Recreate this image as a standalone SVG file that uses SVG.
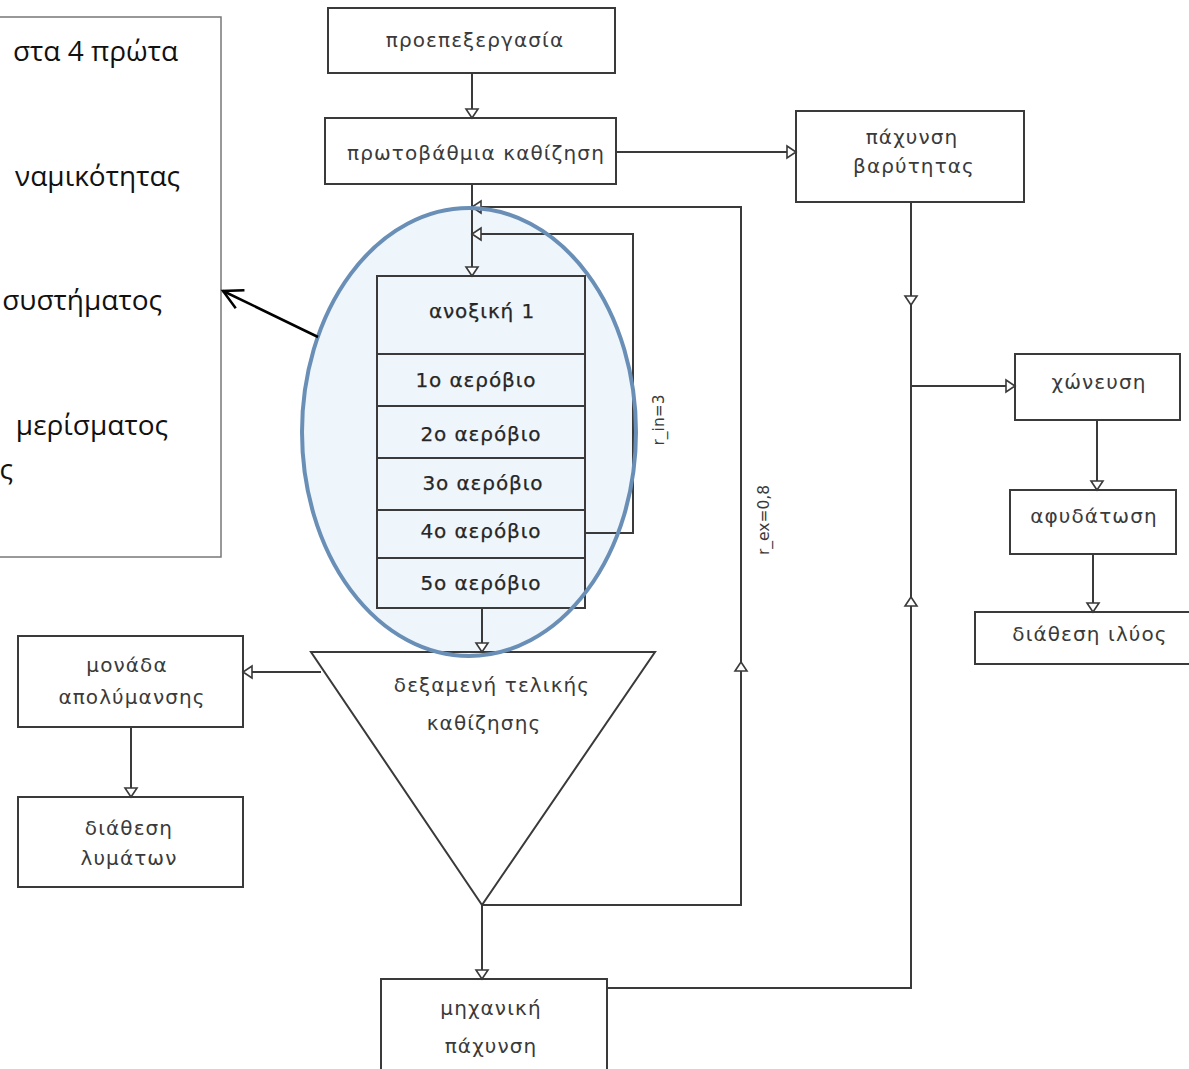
<svg xmlns="http://www.w3.org/2000/svg" width="1189" height="1069" viewBox="0 0 1189 1069">
  <style>
    .box { fill: none; stroke: #3a3a3a; stroke-width: 2; }
    .wire { fill: none; stroke: #3a3a3a; stroke-width: 2; }
    .lbl { font-family: "DejaVu Sans", "Noto Sans", sans-serif; font-size: 20px; letter-spacing: 1.1px; fill: #3a3a3a; text-anchor: middle; }
    .stk { font-family: "DejaVu Sans", "Noto Sans", sans-serif; font-size: 20px; letter-spacing: 0.9px; fill: #262626; stroke: #262626; stroke-width: 0.25; text-anchor: middle; }
    .rot { font-family: "DejaVu Sans", "Noto Sans", sans-serif; font-size: 15.5px; fill: #3a3a3a; text-anchor: middle; }
    .note { font-family: "Open Sans", "Noto Sans", sans-serif; font-size: 28px; fill: #111; text-anchor: end; }
  </style>
  <defs>
    <marker id="tri" markerUnits="userSpaceOnUse" markerWidth="12" markerHeight="14" refX="10" refY="6" orient="auto" overflow="visible">
      <path d="M1,0 L10,6 L1,12 Z" fill="#fff" stroke="#3a3a3a" stroke-width="1.6"/>
    </marker>
    <marker id="vee" markerUnits="userSpaceOnUse" markerWidth="24" markerHeight="24" refX="0" refY="0" orient="auto" overflow="visible">
      <path d="M-19,-10 L0,0 L-19,10" fill="none" stroke="#000" stroke-width="2.5"/>
    </marker>
  </defs>

  <rect width="1189" height="1069" fill="#fff"/>

  <!-- annotation panel on the left -->
  <g id="note">
    <rect x="-4" y="17" width="225" height="540" fill="#fff" stroke="#777" stroke-width="1.5"/>
    <text class="note" x="178" y="61">στα 4 πρώτα</text>
    <text class="note" x="180" y="186">ναμικότητας</text>
    <text class="note" x="162" y="310">συστήματος</text>
    <text class="note" x="168" y="435">μερίσματος</text>
    <text class="note" x="13" y="479">ς</text>
  </g>

  <!-- highlight behind the reactor stack -->
  <ellipse id="highlight-fill" cx="469" cy="432" rx="167" ry="224" fill="#EEF5FB"/>

  <!-- connectors -->
  <g id="connectors">
    <path class="wire" d="M472,73 V118" marker-end="url(#tri)"/>
    <path class="wire" d="M616,152 H796" marker-end="url(#tri)"/>
    <path class="wire" d="M472,184 V276" marker-end="url(#tri)"/>
    <!-- external recycle r_ex -->
    <path class="wire" d="M482,905 H741 V662"/>
    <path class="wire" d="M741,662 V207 H472" marker-end="url(#tri)"/>
    <path class="wire" d="M741,680 V662" marker-end="url(#tri)"/>
    <!-- internal recycle r_in -->
    <path class="wire" d="M585,533 H633 V234 H472" marker-end="url(#tri)"/>
    <path class="wire" d="M482,608 V652" marker-end="url(#tri)"/>
    <path class="wire" d="M321,672 H243" marker-end="url(#tri)"/>
    <path class="wire" d="M131,727 V797" marker-end="url(#tri)"/>
    <path class="wire" d="M482,905 V979" marker-end="url(#tri)"/>
    <!-- sludge line -->
    <path class="wire" d="M911,202 V305" marker-end="url(#tri)"/>
    <path class="wire" d="M911,305 V988 H607"/>
    <path class="wire" d="M911,620 V597" marker-end="url(#tri)"/>
    <path class="wire" d="M911,386 H1015" marker-end="url(#tri)"/>
    <path class="wire" d="M1097,420 V490" marker-end="url(#tri)"/>
    <path class="wire" d="M1093,554 V612" marker-end="url(#tri)"/>
    <text class="rot" transform="translate(664,420) rotate(-90)">r_in=3</text>
    <text class="rot" transform="translate(769,520) rotate(-90)">r_ex=0,8</text>
  </g>

  <g id="pre">
    <rect class="box" x="328" y="8" width="287" height="65" fill="#fff"/>
    <text class="lbl" x="475" y="47">προεπεξεργασία</text>
  </g>
  <g id="primary">
    <rect class="box" x="325" y="118" width="291" height="66"/>
    <text class="lbl" x="476" y="160">πρωτοβάθμια καθίζηση</text>
  </g>
  <g id="gravity-thickening">
    <rect class="box" x="796" y="111" width="228" height="91"/>
    <text class="lbl" x="912" y="144">πάχυνση</text>
    <text class="lbl" x="914" y="173">βαρύτητας</text>
  </g>
  <g id="reactor">
    <rect class="box" x="377" y="276" width="208" height="332"/>
    <path class="wire" d="M377,354 H585 M377,406 H585 M377,458 H585 M377,510 H585 M377,558 H585"/>
    <text class="stk" x="482" y="318">ανοξική 1</text>
    <text class="stk" x="476" y="387">1ο αερόβιο</text>
    <text class="stk" x="481" y="441">2ο αερόβιο</text>
    <text class="stk" x="483" y="490">3ο αερόβιο</text>
    <text class="stk" x="481" y="538">4ο αερόβιο</text>
    <text class="stk" x="481" y="590">5ο αερόβιο</text>
  </g>
  <g id="digestion">
    <rect class="box" x="1015" y="354" width="165" height="66"/>
    <text class="lbl" x="1099" y="389">χώνευση</text>
  </g>
  <g id="dewatering">
    <rect class="box" x="1010" y="490" width="166" height="64"/>
    <text class="lbl" x="1094" y="523">αφυδάτωση</text>
  </g>
  <g id="sludge-disposal">
    <rect class="box" x="975" y="612" width="220" height="52"/>
    <text class="lbl" x="1090" y="641">διάθεση ιλύος</text>
  </g>
  <g id="disinfection">
    <rect class="box" x="18" y="636" width="225" height="91"/>
    <text class="lbl" x="127" y="672">μονάδα</text>
    <text class="lbl" x="132" y="704">απολύμανσης</text>
  </g>
  <g id="effluent-disposal">
    <rect class="box" x="18" y="797" width="225" height="90"/>
    <text class="lbl" x="129" y="835">διάθεση</text>
    <text class="lbl" x="129" y="865">λυμάτων</text>
  </g>
  <g id="final-clarifier">
    <path class="box" d="M311,652 H655 L482,905 Z"/>
    <text class="lbl" x="492" y="692">δεξαμενή τελικής</text>
    <text class="lbl" x="484" y="730">καθίζησης</text>
  </g>
  <g id="mech-thickening">
    <rect class="box" x="381" y="979" width="226" height="95"/>
    <text class="lbl" x="491" y="1015">μηχανική</text>
    <text class="lbl" x="491" y="1053">πάχυνση</text>
  </g>

  <!-- highlight outline and pointer to the annotation -->
  <ellipse id="highlight" cx="469" cy="432" rx="167" ry="224" fill="none" stroke="#6A8FB7" stroke-width="4"/>
  <path id="pointer" d="M318,337 L223,291" fill="none" stroke="#000" stroke-width="2.5" marker-end="url(#vee)"/>
</svg>
